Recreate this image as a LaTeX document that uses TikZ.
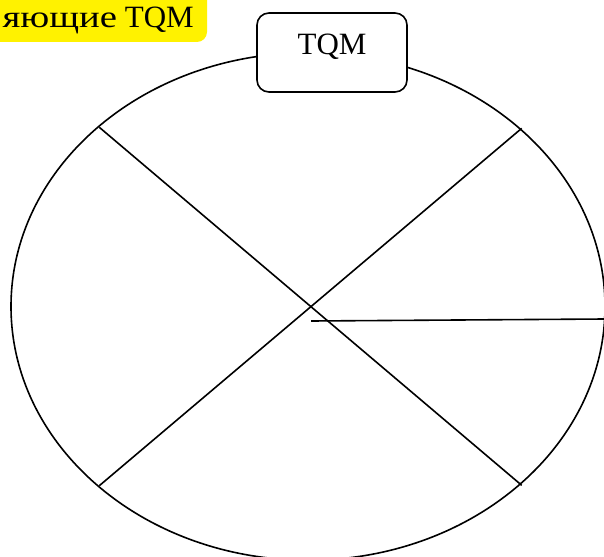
\documentclass[tikz,border=0pt]{standalone}
\usepackage{fontspec}
\setmainfont{Liberation Serif}
\usetikzlibrary{shapes.geometric}
\tikzset{
  ln/.style={line width=1.6pt, black},
  titlebox/.style={draw, line width=1.6pt, rounded corners=12pt, fill=white,
    minimum width=150pt, minimum height=79pt, inner sep=0pt},
  bigtext/.style={font=\fontsize{31}{37}\selectfont, inner sep=0pt}
}
\begin{document}
\begin{tikzpicture}[x=1pt,y=-1pt]
\useasboundingbox (0,0) rectangle (604,556);
% highlighted heading
\fill[yellow, rounded corners=10pt] (-60,-15) rectangle (207,42);
\node[bigtext, anchor=base east] (head) at (194,28) {\scalebox{1.25}[1]{яющие} TQM};
% ellipse
\node[ellipse, draw, line width=1.6pt, minimum width=594pt, minimum height=507.4pt, inner sep=0pt] (e) at (308,306.5) {};
% spokes
\coordinate (ul) at (99.3,127.3);
\coordinate (lr) at (521.7,485.3);
\coordinate (ur) at (521.7,128.3);
\coordinate (ll) at (99.3,485.7);
\coordinate (hs) at (311,321);
\coordinate (he) at (604.6,319);
\draw[ln] (ul) -- (lr);
\draw[ln] (ur) -- (ll);
\draw[ln] (hs) -- (he);
% title box
\node[titlebox] (tqm) at (332,52.5) {};
\node[bigtext, anchor=base] (tqmt) at (332,55) {TQM};
\end{tikzpicture}
\end{document}
